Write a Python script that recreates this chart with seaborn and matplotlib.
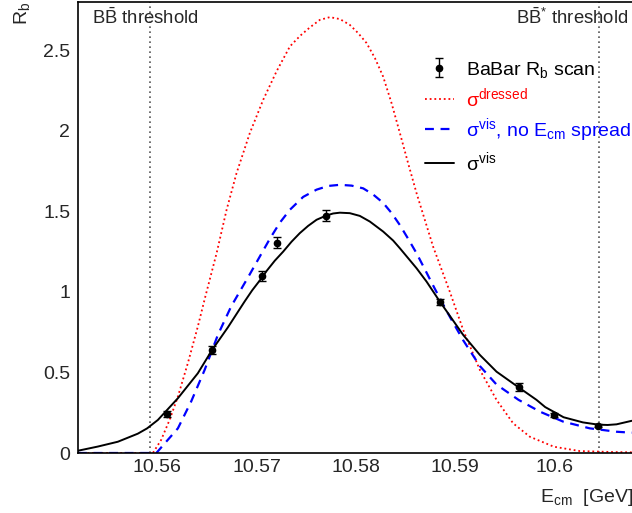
import numpy as np
import matplotlib
matplotlib.use('Agg')
import matplotlib.pyplot as plt
import seaborn as sns
from matplotlib.ticker import MultipleLocator

# BaBar Rb scan points
scan_e = [10.56099, 10.56552, 10.57056, 10.57208, 10.57702, 10.58848, 10.59641, 10.59997, 10.60444]
scan_rb = [0.242, 0.640, 1.100, 1.306, 1.474, 0.936, 0.412, 0.238, 0.170]
scan_err = [0.020, 0.025, 0.030, 0.035, 0.035, 0.020, 0.025, 0.012, 0.010]

# sigma^vis (with Ecm spread)
vis_e = [10.55199, 10.55400, 10.55602, 10.55803, 10.55897, 10.56005, 10.56207, 10.56408,
         10.56552, 10.56711, 10.56879, 10.56956, 10.57056, 10.57101, 10.57184, 10.57268,
         10.57353, 10.57436, 10.57520, 10.57605, 10.57702, 10.57772, 10.57840, 10.57940,
         10.58041, 10.58142, 10.58276, 10.58377, 10.58445, 10.58613, 10.58714, 10.58848,
         10.59083, 10.59251, 10.59419, 10.59641, 10.59822, 10.59910, 10.60095, 10.60290,
         10.60444, 10.60540, 10.60629, 10.60783]
vis_r = [0.014, 0.040, 0.070, 0.120, 0.153, 0.205, 0.340, 0.495,
         0.640, 0.780, 0.940, 1.010, 1.090, 1.130, 1.194, 1.250,
         1.312, 1.365, 1.410, 1.448, 1.474, 1.487, 1.492, 1.489,
         1.472, 1.437, 1.375, 1.319, 1.271, 1.147, 1.064, 0.940,
         0.733, 0.609, 0.505, 0.408, 0.330, 0.285, 0.222, 0.190,
         0.176, 0.174, 0.178, 0.200]

# sigma^vis, no Ecm spread
nospread_e = [10.55200, 10.55990, 10.56089, 10.56207, 10.56341, 10.56476, 10.56610, 10.56744,
              10.56932, 10.57033, 10.57134, 10.57235, 10.57336, 10.57470, 10.57605, 10.57722,
              10.57840, 10.57958, 10.58075, 10.58175, 10.58276, 10.58361, 10.58445, 10.58528,
              10.58613, 10.58697, 10.58780, 10.58865, 10.58949, 10.59083, 10.59251, 10.59419,
              10.59641, 10.59856, 10.60090, 10.60360, 10.60629, 10.60783]
nospread_r = [0.0, 0.0, 0.070, 0.153, 0.320, 0.515, 0.733, 0.910,
              1.110, 1.220, 1.330, 1.430, 1.510, 1.590, 1.635, 1.658,
              1.665, 1.660, 1.643, 1.605, 1.553, 1.490, 1.415, 1.330,
              1.240, 1.140, 1.040, 0.940, 0.845, 0.700, 0.540, 0.425,
              0.330, 0.257, 0.195, 0.153, 0.132, 0.126]

# sigma^dressed
dressed_e = [10.55200, 10.55955, 10.56038, 10.56123, 10.56207, 10.56307, 10.56408, 10.56479,
             10.56597, 10.56698, 10.56798, 10.56932, 10.57067, 10.57202, 10.57336, 10.57439,
             10.57537, 10.57638, 10.57739, 10.57840, 10.57940, 10.58024, 10.58109, 10.58193,
             10.58276, 10.58361, 10.58445, 10.58528, 10.58613, 10.58780, 10.58949, 10.59083,
             10.59251, 10.59419, 10.59587, 10.59755, 10.59997, 10.60260, 10.60590, 10.60800]
dressed_r = [0.0, 0.0, 0.081, 0.205, 0.350, 0.557, 0.785, 0.960,
             1.240, 1.510, 1.737, 1.986, 2.193, 2.370, 2.524, 2.590,
             2.642, 2.689, 2.706, 2.694, 2.658, 2.607, 2.545, 2.452,
             2.337, 2.172, 1.986, 1.799, 1.613, 1.281, 1.000, 0.764,
             0.516, 0.330, 0.184, 0.101, 0.039, 0.012, 0.006, 0.004]

thresholds = [10.5593, 10.6045]

sns.set_style('white')
plt.rcParams['font.family'] = ['Liberation Sans', 'DejaVu Sans']
plt.rcParams['mathtext.fontset'] = 'custom'
plt.rcParams['mathtext.rm'] = 'Liberation Sans'
plt.rcParams['mathtext.it'] = 'Liberation Sans:italic'

fig = plt.figure(figsize=(6.32, 5.13), dpi=100)
ax = fig.add_axes([78 / 632, 1 - 453 / 513, 555.5 / 632, 451 / 513])

# threshold lines
for t in thresholds:
    ax.axvline(t, color='#555555', linestyle=(0, (1, 2)), lw=1.2, zorder=1)

sns.lineplot(x=dressed_e, y=dressed_r, ax=ax, color='red', lw=1.3,
             linestyle=(0, (1, 1.6)), label=r'σ$^{\mathrm{dressed}}$', sort=False)
sns.lineplot(x=nospread_e, y=nospread_r, ax=ax, color='blue', lw=1.6,
             linestyle=(0, (4, 3)), label=r'σ$^{\mathrm{vis}}$, no E$_{\mathrm{cm}}$ spread', sort=False)
sns.lineplot(x=vis_e, y=vis_r, ax=ax, color='black', lw=1.4,
             label=r'σ$^{\mathrm{vis}}$', sort=False)
ax.errorbar(scan_e, scan_rb, yerr=scan_err, fmt='o', color='black', ms=4.5,
            capsize=3, elinewidth=1, capthick=1, label=r'BaBar R$_{\mathrm{b}}$ scan', zorder=5)

ax.set_xlim(10.552, 10.608)
ax.set_ylim(0, 2.8)
ax.xaxis.set_minor_locator(MultipleLocator(0.002))
ax.yaxis.set_minor_locator(MultipleLocator(0.1))
ax.set_xticks([10.56, 10.57, 10.58, 10.59, 10.6])
ax.set_xticklabels(['10.56', '10.57', '10.58', '10.59', '10.6'])
ax.set_yticks([0, 0.5, 1, 1.5, 2, 2.5])
ax.set_yticklabels(['0', '0.5', '1', '1.5', '2', '2.5'])
ax.tick_params(which='major', direction='in', length=9, width=1, labelsize=14)
ax.tick_params(axis='x', which='major', pad=4.5)
ax.tick_params(axis='y', which='major', pad=5.5)
ax.tick_params(which='minor', direction='in', length=4.5, width=1)
for s in ax.spines.values():
    s.set_linewidth(1.2)
    s.set_color('black')

ax.set_xlabel(r'E$_{\mathrm{cm}}$  [GeV]', fontsize=14, loc='right', labelpad=8)
ax.set_ylabel(r'R$_{\mathrm{b}}$', fontsize=14, loc='top', labelpad=8)

ax.text(92 / 632, 1 - 18 / 513, r'B$\mathrm{\bar{B}}$ threshold', transform=fig.transFigure,
        fontsize=13.3, ha='left', va='center')
ax.text(628 / 632, 1 - 18 / 513, r'B$\mathrm{\bar{B}}^{*}$ threshold', transform=fig.transFigure,
        fontsize=13.3, ha='right', va='center')

handles, labels = ax.get_legend_handles_labels()
order = [3, 0, 1, 2]
leg = ax.legend([handles[i] for i in order], [labels[i] for i in order],
                loc='upper left', bbox_to_anchor=(407 / 632, 1 - 42 / 513),
                bbox_transform=fig.transFigure, frameon=False, fontsize=14,
                handlelength=1.5, handletextpad=0.65, labelspacing=0.32)
for txt, c in zip(leg.get_texts(), ['black', 'red', 'blue', 'black']):
    txt.set_color(c)

plt.savefig('out.png', dpi=100)
